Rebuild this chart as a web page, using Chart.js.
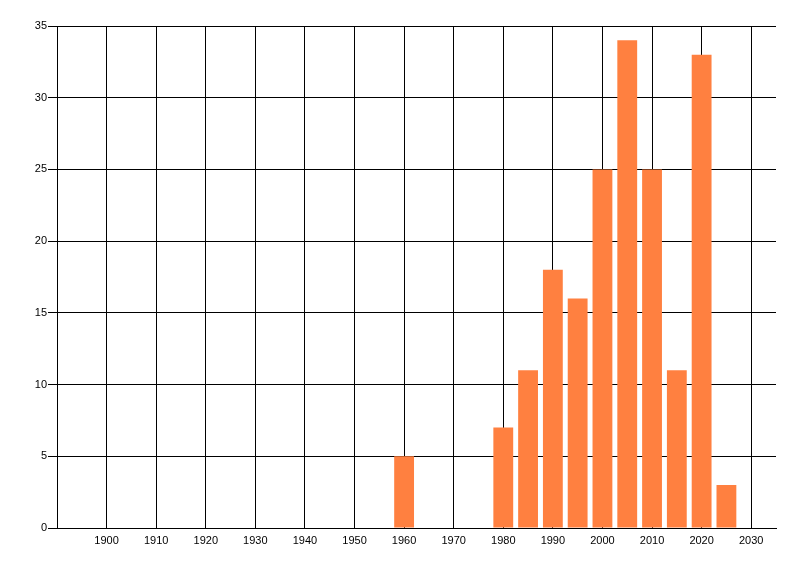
<!DOCTYPE html>
<html>
<head>
<meta charset="utf-8">
<script src="https://cdn.jsdelivr.net/npm/chart.js@4/dist/chart.umd.min.js"></script>
<style>
    html, body { margin: 0; padding: 0; background: #ffffff; }
    #wrap { width: 800px; height: 576px; }
</style>
</head>
<body>
<div id="wrap"><canvas id="histChart" width="800" height="576"></canvas></div>
<script>
// Years (bar centres) and counts
const years = [1960, 1980, 1985, 1990, 1995, 2000, 2005, 2010, 2015, 2020, 2025];
const counts = [5, 7, 11, 18, 16, 25, 34, 25, 11, 33, 3];

// Axis tick labels
const xTicks = [1900, 1910, 1920, 1930, 1940, 1950, 1960, 1970, 1980, 1990, 2000, 2010, 2020, 2030];
const yTicks = [0, 5, 10, 15, 20, 25, 30, 35];

const barColor = 'rgb(255, 128, 64)';
const tickFont = { family: "'Liberation Sans', Arial, sans-serif", size: 11 };

document.addEventListener('DOMContentLoaded', () => {
    renderHistogram();
});

/**
 * Draws the year histogram with a linear x axis so bars sit on their year.
 */
function renderHistogram() {
    const points = years.map((year, i) => ({ x: year, y: counts[i] }));

    new Chart(document.getElementById('histChart'), {
        type: 'bar',
        data: {
            datasets: [{
                data: points,
                backgroundColor: barColor,
                borderWidth: 0,
                barPercentage: 1,
                categoryPercentage: 0.8
            }]
        },
        options: {
            responsive: false,
            animation: false,
            layout: { padding: { left: 0, right: 24, top: 26, bottom: 0 } },
            plugins: {
                legend: { display: false },
                tooltip: { enabled: false }
            },
            scales: {
                x: {
                    type: 'linear',
                    min: 1890,
                    max: 2035,
                    offset: false,
                    afterBuildTicks: (scale) => {
                        scale.ticks = xTicks.map(v => ({ value: v }));
                    },
                    afterFit: (scale) => { scale.height = 48; },
                    grid: {
                        offset: false,
                        color: '#000000',
                        lineWidth: 1,
                        drawTicks: false
                    },
                    border: { color: '#000000', width: 1 },
                    ticks: {
                        color: '#000000',
                        font: tickFont,
                        padding: 6,
                        maxRotation: 0,
                        autoSkip: false,
                        callback: (value) => String(value)
                    }
                },
                y: {
                    min: 0,
                    max: 35,
                    afterBuildTicks: (scale) => {
                        scale.ticks = yTicks.map(v => ({ value: v }));
                    },
                    afterFit: (scale) => { scale.width = 57; },
                    grid: {
                        color: '#000000',
                        lineWidth: 1,
                        drawTicks: true,
                        tickLength: 9,
                        tickColor: '#000000'
                    },
                    border: { color: '#000000', width: 1 },
                    ticks: {
                        color: '#000000',
                        font: tickFont,
                        padding: 1
                    }
                }
            }
        }
    });
}
</script>
</body>
</html>
